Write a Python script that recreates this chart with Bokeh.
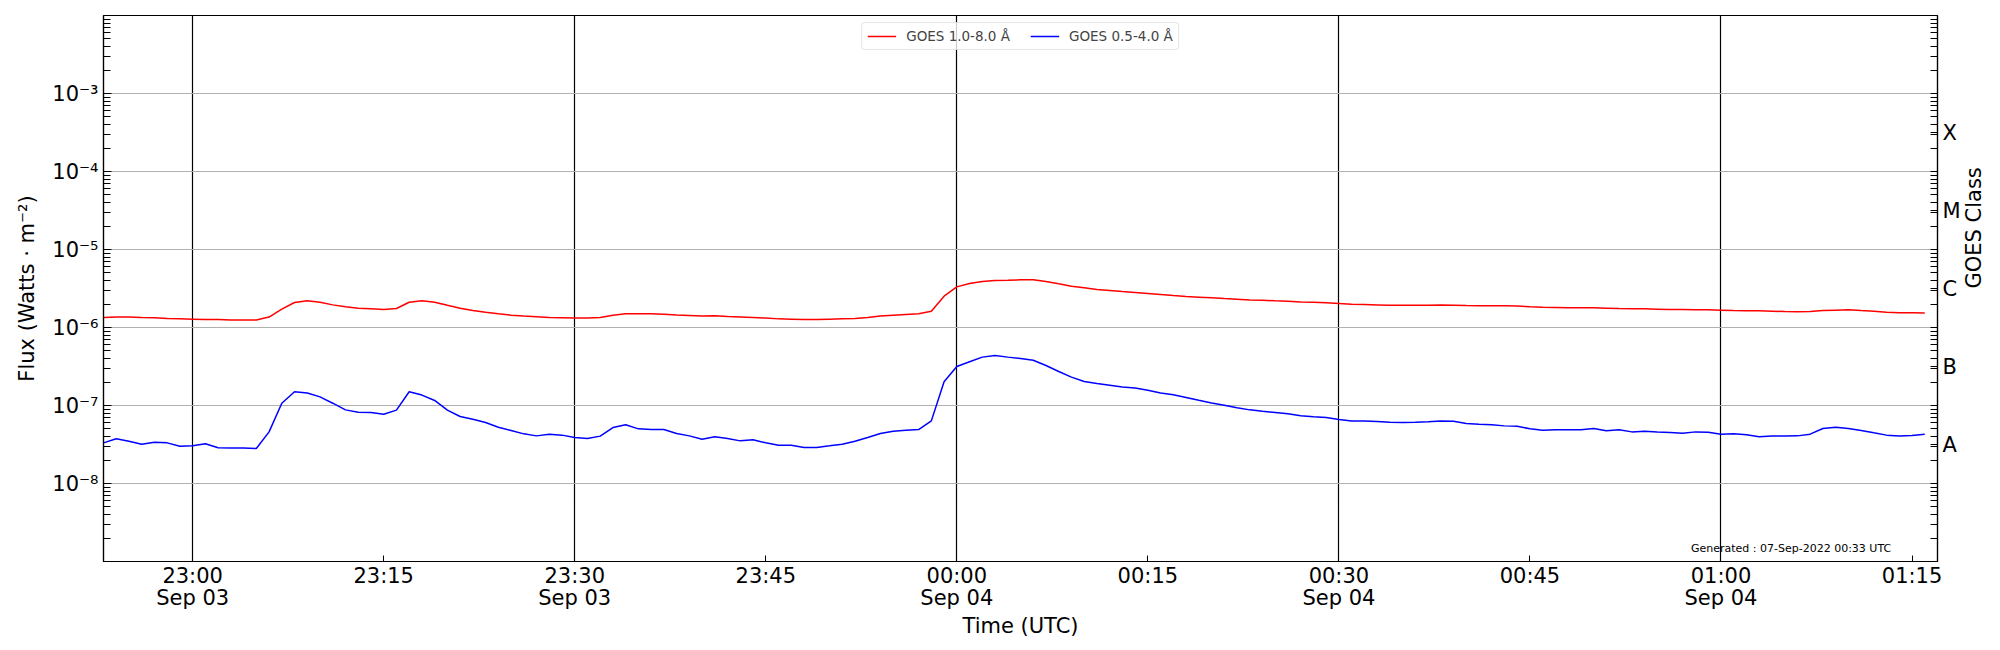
import math
import pandas as pd
from bokeh.plotting import figure
from bokeh.models import (Range1d, FixedTicker, CustomJSTickFormatter, LogAxis,
                          Legend, LegendItem, Label)
from bokeh.embed import file_html
from bokeh.resources import INLINE

# ---------------- data ----------------
start_time = "2022-09-03 22:53"
n_points = 144  # one-minute samples 22:53 -> 01:16
times = pd.date_range(start_time, periods=n_points, freq="1min")

xrsb_flux = [  # GOES 1.0-8.0 A  (W m^-2)
    1.34e-6, 1.36e-6, 1.36e-6, 1.34e-6, 1.33e-6, 1.30e-6, 1.29e-6, 1.28e-6, 1.27e-6, 1.27e-6, 1.25e-6, 1.25e-6,
    1.25e-6, 1.36e-6, 1.72e-6, 2.09e-6, 2.20e-6, 2.11e-6, 1.95e-6, 1.84e-6, 1.77e-6, 1.74e-6, 1.70e-6, 1.75e-6,
    2.11e-6, 2.20e-6, 2.11e-6, 1.93e-6, 1.77e-6, 1.65e-6, 1.57e-6, 1.50e-6, 1.44e-6, 1.40e-6, 1.37e-6, 1.34e-6,
    1.33e-6, 1.32e-6, 1.32e-6, 1.34e-6, 1.44e-6, 1.50e-6, 1.50e-6, 1.50e-6, 1.48e-6, 1.45e-6, 1.43e-6, 1.40e-6,
    1.41e-6, 1.38e-6, 1.36e-6, 1.34e-6, 1.32e-6, 1.29e-6, 1.28e-6, 1.27e-6, 1.27e-6, 1.28e-6, 1.29e-6, 1.30e-6,
    1.34e-6, 1.40e-6, 1.44e-6, 1.47e-6, 1.50e-6, 1.62e-6, 2.52e-6, 3.32e-6, 3.66e-6, 3.89e-6, 4.01e-6, 4.02e-6,
    4.08e-6, 4.08e-6, 3.89e-6, 3.63e-6, 3.39e-6, 3.23e-6, 3.07e-6, 2.98e-6, 2.89e-6, 2.81e-6, 2.73e-6, 2.65e-6,
    2.57e-6, 2.50e-6, 2.45e-6, 2.40e-6, 2.35e-6, 2.31e-6, 2.26e-6, 2.24e-6, 2.20e-6, 2.17e-6, 2.13e-6, 2.11e-6,
    2.07e-6, 2.03e-6, 1.99e-6, 1.97e-6, 1.95e-6, 1.93e-6, 1.93e-6, 1.93e-6, 1.93e-6, 1.95e-6, 1.93e-6, 1.91e-6,
    1.90e-6, 1.90e-6, 1.90e-6, 1.88e-6, 1.84e-6, 1.82e-6, 1.81e-6, 1.79e-6, 1.79e-6, 1.79e-6, 1.77e-6, 1.75e-6,
    1.74e-6, 1.74e-6, 1.72e-6, 1.70e-6, 1.70e-6, 1.69e-6, 1.69e-6, 1.67e-6, 1.65e-6, 1.64e-6, 1.64e-6, 1.62e-6,
    1.60e-6, 1.59e-6, 1.60e-6, 1.65e-6, 1.67e-6, 1.69e-6, 1.65e-6, 1.62e-6, 1.57e-6, 1.54e-6, 1.54e-6, 1.53e-6,
]

xrsa_flux = [  # GOES 0.5-4.0 A  (W m^-2)
    3.32e-8, 3.74e-8, 3.49e-8, 3.19e-8, 3.39e-8, 3.32e-8, 3.01e-8, 3.04e-8, 3.23e-8, 2.87e-8, 2.85e-8, 2.85e-8,
    2.81e-8, 4.59e-8, 1.07e-7, 1.50e-7, 1.45e-7, 1.29e-7, 1.07e-7, 8.79e-8, 8.22e-8, 8.14e-8, 7.74e-8, 8.72e-8,
    1.50e-7, 1.36e-7, 1.16e-7, 8.72e-8, 7.22e-8, 6.68e-8, 6.05e-8, 5.27e-8, 4.78e-8, 4.33e-8, 4.08e-8, 4.29e-8,
    4.17e-8, 3.89e-8, 3.78e-8, 4.05e-8, 5.22e-8, 5.65e-8, 5.02e-8, 4.92e-8, 4.92e-8, 4.38e-8, 4.08e-8, 3.70e-8,
    3.97e-8, 3.78e-8, 3.52e-8, 3.63e-8, 3.32e-8, 3.10e-8, 3.10e-8, 2.90e-8, 2.90e-8, 3.04e-8, 3.19e-8, 3.49e-8,
    3.89e-8, 4.38e-8, 4.69e-8, 4.83e-8, 4.92e-8, 6.35e-8, 2.01e-7, 3.16e-7, 3.63e-7, 4.17e-7, 4.38e-7, 4.17e-7,
    4.00e-7, 3.81e-7, 3.26e-7, 2.73e-7, 2.31e-7, 2.03e-7, 1.91e-7, 1.82e-7, 1.73e-7, 1.68e-7, 1.57e-7, 1.45e-7,
    1.37e-7, 1.27e-7, 1.17e-7, 1.08e-7, 1.01e-7, 9.33e-8, 8.79e-8, 8.45e-8, 8.14e-8, 7.82e-8, 7.37e-8, 7.17e-8,
    7.02e-8, 6.62e-8, 6.35e-8, 6.35e-8, 6.24e-8, 6.11e-8, 6.05e-8, 6.11e-8, 6.18e-8, 6.35e-8, 6.29e-8, 5.87e-8,
    5.75e-8, 5.65e-8, 5.48e-8, 5.42e-8, 5.02e-8, 4.83e-8, 4.88e-8, 4.88e-8, 4.88e-8, 5.07e-8, 4.74e-8, 4.88e-8,
    4.59e-8, 4.69e-8, 4.59e-8, 4.50e-8, 4.41e-8, 4.59e-8, 4.55e-8, 4.29e-8, 4.33e-8, 4.21e-8, 3.97e-8, 4.05e-8,
    4.05e-8, 4.08e-8, 4.29e-8, 5.07e-8, 5.27e-8, 5.07e-8, 4.78e-8, 4.46e-8, 4.17e-8, 4.05e-8, 4.12e-8, 4.29e-8,
]

series_labels = ["GOES 1.0-8.0 Å", "GOES 0.5-4.0 Å"]
series_colors = ["red", "blue"]

x_tick_times = ["2022-09-03 23:00", "2022-09-03 23:15", "2022-09-03 23:30", "2022-09-03 23:45",
                "2022-09-04 00:00", "2022-09-04 00:15", "2022-09-04 00:30", "2022-09-04 00:45",
                "2022-09-04 01:00", "2022-09-04 01:15"]
x_tick_labels = ["23:00\nSep 03", "23:15", "23:30\nSep 03", "23:45", "00:00\nSep 04",
                 "00:15", "00:30\nSep 04", "00:45", "01:00\nSep 04", "01:15"]
x_grid_times = ["2022-09-03 23:00", "2022-09-03 23:30", "2022-09-04 00:00",
                "2022-09-04 00:30", "2022-09-04 01:00"]

y_ticks = [1e-8, 1e-7, 1e-6, 1e-5, 1e-4, 1e-3]
y_tick_labels = ["10⁻⁸", "10⁻⁷", "10⁻⁶", "10⁻⁵", "10⁻⁴", "10⁻³"]

class_ticks = [3.162e-8, 3.162e-7, 3.162e-6, 3.162e-5, 3.162e-4]
class_labels = ["A", "B", "C", "M", "X"]

generated_text = "Generated : 07-Sep-2022 00:33 UTC"


def ms(t):
    return pd.Timestamp(t).timestamp() * 1000.0


x_start = ms("2022-09-03 22:53")
x_end = ms("2022-09-04 01:17")
FONT = "DejaVu Sans"
FS = "21px"

NEAREST_LIN = """
let best = 0, bd = Infinity;
for (let i = 0; i < tvals.length; i++) {
    const d = Math.abs(tvals[i] - tick);
    if (d < bd) { bd = d; best = i; }
}
return tlabels[best];
"""
NEAREST_LOG = """
let best = 0, bd = Infinity;
for (let i = 0; i < tvals.length; i++) {
    const d = Math.abs(Math.log10(tvals[i]) - Math.log10(tick));
    if (d < bd) { bd = d; best = i; }
}
return tlabels[best];
"""

p = figure(width=2000, height=650, x_axis_type="datetime", y_axis_type="log",
           x_range=Range1d(x_start, x_end), y_range=Range1d(1e-9, 1e-2),
           output_backend="svg", toolbar_location=None,
           min_border_left=103, min_border_right=63, min_border_top=15, min_border_bottom=89)
p.background_fill_color = "white"
p.border_fill_color = "white"
p.outline_line_color = "black"
p.outline_line_width = 1.2

renderers = []
for flux, col in zip([xrsb_flux, xrsa_flux], series_colors):
    r = p.line(times, flux, line_color=col, line_width=1.5)
    renderers.append(r)

# grids
minor_log = [k * 10.0 ** e for e in range(-9, -2) for k in range(2, 10)]
p.ygrid.ticker = FixedTicker(ticks=y_ticks)
p.ygrid.grid_line_color = "#b0b0b0"
p.ygrid.grid_line_width = 1
p.xgrid.ticker = FixedTicker(ticks=[ms(t) for t in x_grid_times])
p.xgrid.grid_line_color = "black"
p.xgrid.grid_line_width = 1.2

# x axis
xax = p.xaxis[0]
xax.ticker = FixedTicker(ticks=[ms(t) for t in x_tick_times])
xax.formatter = CustomJSTickFormatter(
    args=dict(tvals=[ms(t) for t in x_tick_times], tlabels=x_tick_labels), code=NEAREST_LIN)
xax.axis_label = "Time (UTC)"
xax.major_tick_in = 6
xax.major_tick_out = 0
xax.minor_tick_in = 0
xax.minor_tick_out = 0
xax.major_label_standoff = 2
xax.axis_label_standoff = 1
xax.major_label_text_line_height = 0.95

# left axis
yax = p.yaxis[0]
yax.ticker = FixedTicker(ticks=y_ticks, minor_ticks=minor_log)
yax.formatter = CustomJSTickFormatter(args=dict(tvals=y_ticks, tlabels=y_tick_labels), code=NEAREST_LOG)
yax.axis_label = "Flux (Watts · m⁻²)"
yax.major_tick_in = 8
yax.major_tick_out = 0
yax.minor_tick_in = 7
yax.minor_tick_out = 0
yax.major_label_standoff = 5
yax.axis_label_standoff = 10

# right axis (GOES class)
rax = LogAxis(ticker=FixedTicker(ticks=class_ticks, minor_ticks=minor_log + y_ticks),
              formatter=CustomJSTickFormatter(args=dict(tvals=class_ticks, tlabels=class_labels),
                                              code=NEAREST_LOG),
              axis_label="GOES Class")
rax.major_tick_in = 7
rax.major_tick_out = 0
rax.minor_tick_in = 7
rax.minor_tick_out = 0
rax.major_label_standoff = 5
rax.axis_label_standoff = 10
if "axis_label_orientation" in LogAxis.properties():
    rax.axis_label_orientation = math.pi / 2
p.add_layout(rax, "right")

for ax in [xax, yax, rax]:
    ax.axis_line_color = "black"
    ax.axis_line_width = 1.2
    ax.major_tick_line_color = "black"
    ax.minor_tick_line_color = "black"
    ax.major_label_text_font = FONT
    ax.major_label_text_font_size = FS
    ax.major_label_text_color = "black"
    ax.axis_label_text_font = FONT
    ax.axis_label_text_font_size = FS
    ax.axis_label_text_font_style = "normal"
    ax.axis_label_text_color = "black"

# legend
legend = Legend(
    items=[LegendItem(label=lab, renderers=[r]) for lab, r in zip(series_labels, renderers)],
    location="top_center", orientation="horizontal",
    label_text_font=FONT, label_text_font_size="13.5px",
    glyph_width=29, glyph_height=16, label_height=16, label_standoff=10,
    spacing=20, padding=5, margin=7,
    border_line_color="#cccccc", border_line_width=1,
    background_fill_color="white", background_fill_alpha=0.8)
if "border_radius" in Legend.properties():
    legend.border_radius = 4
p.add_layout(legend)

# generated note
p.add_layout(Label(x=ms("2022-09-04 01:05:30"), y=1.48e-9, text=generated_text,
                   text_align="center", text_baseline="alphabetic",
                   text_font=FONT, text_font_size="11px", text_color="black"))

open("out.html", "w").write(file_html(p, INLINE))
